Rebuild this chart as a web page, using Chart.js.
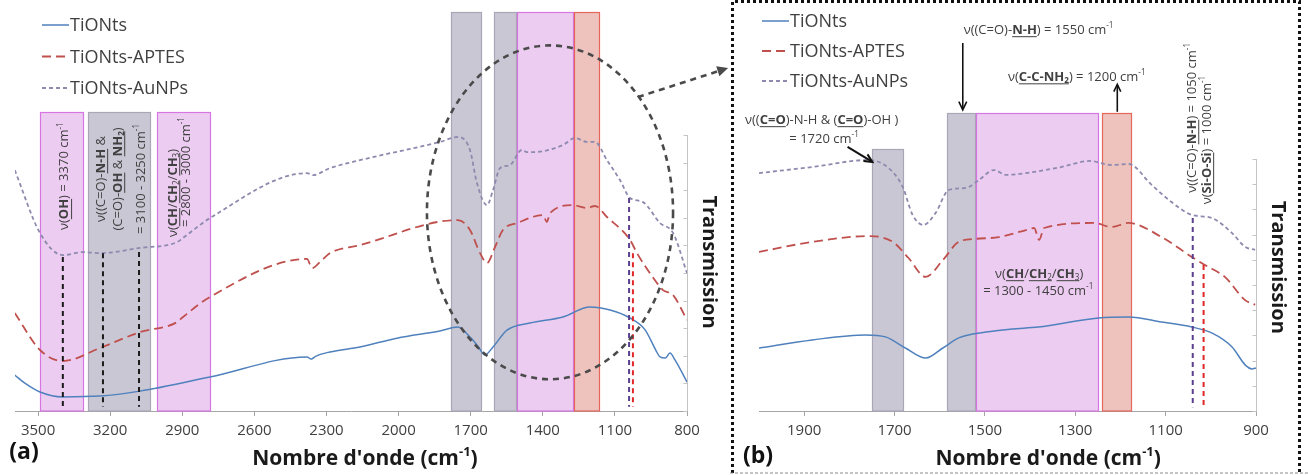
<!DOCTYPE html>
<html>
<head>
<meta charset="utf-8">
<script src="https://cdn.jsdelivr.net/npm/chart.js@4/dist/chart.umd.min.js"></script>
<style>
  html, body { margin: 0; padding: 0; background: #fff; }
  #wrap { position: relative; width: 1308px; height: 475px; overflow: hidden; }
  #cA { position: absolute; left: 0; top: 0; }
  #cB { position: absolute; left: 730px; top: 0; }
</style>
</head>
<body>
<div id="wrap">
  <canvas id="cA" width="730" height="475"></canvas>
  <canvas id="cB" width="578" height="475"></canvas>
</div>
<script>
// ---- panel (a): full range ----
const aTicks = [3500, 3200, 2900, 2600, 2300, 2000, 1700, 1400, 1100, 800];

const aTiONtsX = [3597, 3555, 3492, 3397, 3243, 3076, 2785, 2381, 2364, 2355, 2343, 2286, 2161, 2007, 1828, 1753, 1703, 1670, 1641, 1607, 1549, 1453, 1316, 1204, 1120, 1037, 975, 930, 912, 890, 871, 850, 800];
const aTiONtsY = [13.0, 10.1, 6.9, 5.1, 5.4, 7.2, 12.3, 19.6, 18.8, 19.2, 19.9, 21.4, 23.2, 26.4, 29.0, 30.4, 26.8, 23.5, 20.3, 23.2, 29.3, 31.9, 34.1, 37.7, 36.6, 33.7, 29.5, 22.1, 19.6, 19.2, 21.0, 18.5, 10.5];

const aAptesX = [3597, 3492, 3397, 3243, 3076, 2922, 2902, 2785, 2381, 2360, 2327, 2286, 2161, 1753, 1703, 1661, 1632, 1599, 1566, 1507, 1399, 1383, 1370, 1274, 1216, 1183, 1133, 1037, 1008, 925, 900, 858, 800];
const aAptesY = [35.5, 22.1, 18.1, 22.8, 28.6, 32.2, 33.7, 41.3, 55.1, 51.8, 54.0, 57.2, 60.1, 69.2, 65.6, 57.2, 53.6, 59.4, 65.6, 68.1, 71.0, 68.5, 71.7, 74.6, 73.6, 74.3, 70.3, 62.0, 57.2, 46.4, 43.8, 42.0, 33.0];

const aAunpsX = [3597, 3492, 3397, 3313, 3243, 3076, 2922, 2881, 2785, 2381, 2356, 2286, 2161, 1828, 1753, 1703, 1674, 1632, 1607, 1578, 1537, 1487, 1466, 1441, 1316, 1266, 1216, 1183, 1133, 1079, 1037, 983, 912, 858, 800];
const aAunpsY = [87.3, 64.5, 56.5, 57.6, 57.2, 59.1, 61.2, 63.8, 69.9, 86.2, 85.5, 88.0, 90.9, 97.5, 99.3, 94.6, 82.6, 74.6, 80.1, 88.0, 89.1, 94.6, 93.8, 93.8, 96.4, 98.9, 97.5, 97.5, 90.9, 83.7, 77.2, 75.7, 68.1, 64.5, 50.0];

// ---- panel (b): zoom 2000-900 ----
const bTicks = [1900, 1700, 1500, 1300, 1100, 900];

const bTiONtsX = [2000, 1882, 1764, 1720, 1676, 1631, 1593, 1558, 1498, 1442, 1382, 1249, 1182, 1109, 1042, 998, 953, 924, 909, 900];
const bTiONtsY = [25.0, 28.2, 30.2, 29.4, 25.0, 21.0, 25.0, 29.0, 31.3, 32.5, 33.3, 36.9, 37.3, 35.3, 33.3, 31.0, 25.4, 18.3, 16.7, 17.1];

const bAptesX = [2000, 1882, 1758, 1704, 1669, 1631, 1593, 1558, 1520, 1469, 1409, 1391, 1380, 1369, 1258, 1220, 1182, 1109, 1042, 1013, 969, 924, 902];
const bAptesY = [63.1, 67.1, 69.4, 67.1, 60.7, 53.2, 59.9, 67.1, 68.3, 69.0, 71.8, 72.6, 67.9, 72.6, 74.6, 73.0, 74.6, 69.0, 61.1, 57.9, 53.2, 44.0, 42.1];

const bAunpsX = [2000, 1882, 1758, 1713, 1682, 1660, 1636, 1609, 1580, 1542, 1513, 1480, 1453, 1409, 1331, 1269, 1220, 1182, 1131, 1087, 1042, 998, 953, 924, 902];
const bAunpsY = [94.4, 96.8, 99.6, 96.4, 88.9, 77.8, 73.8, 78.6, 87.7, 88.5, 91.7, 95.6, 93.7, 94.4, 96.8, 99.2, 97.6, 98.0, 89.7, 82.9, 77.8, 76.6, 70.6, 65.1, 63.9];

const seriesNames = ['TiONts', 'TiONts-APTES', 'TiONts-AuNPs'];
const yAxisTicks = [0, 10, 20, 30, 40, 50, 60, 70, 80, 90, 100];

const FONT = '"Open Sans", "DejaVu Sans", sans-serif';
const TXT = '#404040';
const PINK = { fill: '#EDCCF2', line: '#D676E3' };
const GRAY = { fill: '#CAC7D5', line: '#A9A6B6' };
const RED = { fill: '#EFC3BD', line: '#E5665A' };

function pts(xs, ys) {
  return xs.map((x, i) => ({ x, y: ys[i] }));
}

function datasets(t, a, n) {
  return [
    { label: seriesNames[0], data: t, borderColor: '#4F81BD', borderWidth: 1.5, borderDash: [] },
    { label: seriesNames[1], data: a, borderColor: '#C0504D', borderWidth: 1.8, borderDash: [9, 5] },
    { label: seriesNames[2], data: n, borderColor: '#8D8AAE', borderWidth: 1.8, borderDash: [4, 3] }
  ].map(d => Object.assign(d, { pointRadius: 0, cubicInterpolationMode: 'monotone', fill: false }));
}

// rich text: strings or {t, b, u, sub, sup}
function fontFor(s, size, bold) {
  const px = (s.sub || s.sup) ? size * 0.62 : size;
  return ((s.b || bold) ? 'bold ' : '') + px.toFixed(1) + 'px ' + FONT;
}

function drawRich(ctx, raw, x, y, o) {
  const segs = raw.map(s => typeof s === 'string' ? { t: s } : s);
  const size = o.size || 12.5;
  const bold = !!o.bold;
  ctx.save();
  ctx.translate(x, y);
  if (o.rot) ctx.rotate(o.rot);
  ctx.textBaseline = 'alphabetic';
  ctx.fillStyle = o.color || TXT;
  ctx.strokeStyle = o.color || TXT;
  let w = 0;
  segs.forEach(s => { ctx.font = fontFor(s, size, bold); w += ctx.measureText(s.t).width; });
  let cx = o.align === 'left' ? 0 : -w / 2;
  const base = size * 0.36;
  segs.forEach(s => {
    ctx.font = fontFor(s, size, bold);
    const sw = ctx.measureText(s.t).width;
    let dy = base;
    if (s.sup) dy = base - size * 0.42;
    if (s.sub) dy = base + size * 0.18;
    ctx.fillText(s.t, cx, dy);
    if (s.u) {
      ctx.lineWidth = 1;
      ctx.beginPath();
      ctx.moveTo(cx, base + size * 0.24);
      ctx.lineTo(cx + sw, base + size * 0.24);
      ctx.stroke();
    }
    cx += sw;
  });
  ctx.restore();
}

function drawArrow(ctx, x1, y1, x2, y2, o) {
  const a = Math.atan2(y2 - y1, x2 - x1);
  const h = o.head || 9;
  ctx.save();
  ctx.strokeStyle = o.color;
  ctx.fillStyle = o.color;
  ctx.lineWidth = o.width;
  ctx.setLineDash(o.dash || []);
  ctx.beginPath();
  ctx.moveTo(x1, y1);
  ctx.lineTo(x2 - Math.cos(a) * (o.filled ? h * 0.7 : 1), y2 - Math.sin(a) * (o.filled ? h * 0.7 : 1));
  ctx.stroke();
  ctx.setLineDash([]);
  ctx.beginPath();
  ctx.moveTo(x2 - h * Math.cos(a - 0.45), y2 - h * Math.sin(a - 0.45));
  ctx.lineTo(x2, y2);
  ctx.lineTo(x2 - h * Math.cos(a + 0.45), y2 - h * Math.sin(a + 0.45));
  if (o.filled) { ctx.closePath(); ctx.fill(); } else { ctx.stroke(); }
  ctx.restore();
}

const sup1 = { t: '-1', sup: 1 };

const annotPlugin = {
  id: 'annot',
  beforeDatasetsDraw(chart, args, o) {
    const { ctx, scales: { x, y } } = chart;
    ctx.save();
    o.bands.forEach(b => {
      const l = Math.round(x.getPixelForValue(b.from)) + 0.5;
      const r = Math.round(x.getPixelForValue(b.to)) + 0.5;
      const t = Math.round(y.getPixelForValue(b.top)) + 0.5;
      const btm = y.getPixelForValue(0);
      ctx.fillStyle = b.c.fill;
      ctx.fillRect(l, t, r - l, btm - t);
      ctx.strokeStyle = b.c.line;
      ctx.lineWidth = 1.2;
      ctx.strokeRect(l, t, r - l, btm - t);
    });
    ctx.restore();
  },
  afterDatasetsDraw(chart, args, o) {
    const { ctx, chartArea, scales: { x, y } } = chart;
    ctx.save();

    // marker lines
    o.vlines.forEach(v => {
      const px = x.getPixelForValue(v.x);
      ctx.strokeStyle = v.color;
      ctx.lineWidth = 2;
      ctx.setLineDash([5, 4]);
      ctx.beginPath();
      ctx.moveTo(px, y.getPixelForValue(v.top));
      ctx.lineTo(px, y.getPixelForValue(1.5));
      ctx.stroke();
    });
    ctx.setLineDash([]);

    // right axis, drawn only over 0..100
    const ax = chartArea.right + 0.5;
    ctx.strokeStyle = '#c4c4c4';
    ctx.lineWidth = 1;
    ctx.beginPath();
    ctx.moveTo(ax, y.getPixelForValue(0));
    ctx.lineTo(ax, y.getPixelForValue(100));
    yAxisTicks.forEach(v => {
      const py = Math.round(y.getPixelForValue(v)) + 0.5;
      ctx.moveTo(ax - 4, py);
      ctx.lineTo(ax, py);
    });
    ctx.stroke();

    if (o.ellipse) {
      const e = o.ellipse;
      const cx = x.getPixelForValue(e.x), cy = y.getPixelForValue(e.y);
      const rx = Math.abs(x.getPixelForValue(e.x - e.rx) - cx);
      const ry = Math.abs(y.getPixelForValue(e.y + e.ry) - cy);
      ctx.strokeStyle = '#4a4a4a';
      ctx.lineWidth = 2.6;
      ctx.setLineDash([6, 5]);
      ctx.beginPath();
      ctx.ellipse(cx, cy, rx, ry, 0, 0, Math.PI * 2);
      ctx.stroke();
      ctx.setLineDash([]);
    }

    o.arrows.forEach(a => {
      drawArrow(ctx, x.getPixelForValue(a.from[0]), y.getPixelForValue(a.from[1]),
        x.getPixelForValue(a.to[0]), y.getPixelForValue(a.to[1]), a.style);
    });

    o.texts.forEach(t => {
      drawRich(ctx, t.segs, x.getPixelForValue(t.at[0]), y.getPixelForValue(t.at[1]),
        { rot: t.rot ? t.rot * Math.PI / 180 : 0, align: t.align, size: t.size || o.textSize });
    });

    // legend
    const lg = o.legend;
    chart.data.datasets.forEach((ds, i) => {
      const ly = lg.y0 + i * lg.dy;
      ctx.strokeStyle = ds.borderColor;
      ctx.lineWidth = ds.borderWidth;
      ctx.setLineDash(ds.borderDash);
      ctx.beginPath();
      ctx.moveTo(lg.x, ly);
      ctx.lineTo(lg.x + 27, ly);
      ctx.stroke();
      ctx.setLineDash([]);
      drawRich(ctx, [ds.label], lg.x + 28, ly, { size: 18, align: 'left' });
    });

    // axis titles and panel tag
    drawRich(ctx, ['Transmission'], ax + 23, y.getPixelForValue(o.yTitleAt),
      { size: 20, bold: true, rot: Math.PI / 2, color: '#1a1a1a' });
    drawRich(ctx, ['Nombre d\'onde (cm', { t: '-1', sup: 1 }, ')'], x.getPixelForValue(o.xTitleAt), chart.height - 18,
      { size: 21, bold: true, color: '#1a1a1a' });
    drawRich(ctx, [o.tag.text], o.tag.x, o.tag.y, { size: 23, bold: true, color: '#111' });

    if (o.frame) {
      const f = o.frame;
      ctx.strokeStyle = '#111';
      ctx.lineWidth = 3;
      ctx.setLineDash([3, 3]);
      ctx.beginPath();
      ctx.moveTo(f.l, f.b);
      ctx.lineTo(f.l, f.t);
      ctx.lineTo(f.r, f.t);
      ctx.lineTo(f.r, f.b);
      ctx.stroke();
      ctx.strokeStyle = '#8a8a8a';
      ctx.lineWidth = 1;
      ctx.setLineDash([3, 2]);
      ctx.beginPath();
      ctx.moveTo(0, f.b);
      ctx.lineTo(chart.width, f.b);
      ctx.stroke();
    }
    ctx.restore();
  }
};

function xScale(min, max, ticks) {
  return {
    type: 'linear', reverse: true, min, max,
    afterBuildTicks: s => { s.ticks = ticks.map(v => ({ value: v })); },
    afterFit: s => { s.height = 64; },
    border: { color: '#a6a6a6', width: 1 },
    grid: { drawOnChartArea: false, drawTicks: true, tickLength: 5, color: '#a6a6a6' },
    ticks: {
      autoSkip: false, maxRotation: 0, padding: 6, color: '#404040',
      font: { family: 'Open Sans', size: 15 },
      callback: v => String(v)
    }
  };
}

function makeChart(id, cfg) {
  return new Chart(document.getElementById(id), {
    type: 'line',
    data: { datasets: cfg.datasets },
    options: {
      responsive: false,
      animation: false,
      devicePixelRatio: 1,
      layout: { padding: cfg.padding },
      scales: {
        x: xScale(cfg.xmin, cfg.xmax, cfg.ticks),
        y: { display: false, min: 0, max: cfg.ymax }
      },
      plugins: { legend: { display: false }, tooltip: { enabled: false }, annot: cfg.annot }
    },
    plugins: [annotPlugin]
  });
}

makeChart('cA', {
  datasets: datasets(pts(aTiONtsX, aTiONtsY), pts(aAptesX, aAptesY), pts(aAunpsX, aAunpsY)),
  padding: { left: 15, right: 43, top: 12, bottom: 0 },
  xmin: 800, xmax: 3596, ymax: 144.6, ticks: aTicks,
  annot: {
    textSize: 13,
    bands: [
      { from: 3492, to: 3314, top: 108.3, c: PINK },
      { from: 3293, to: 3035, top: 108.3, c: GRAY },
      { from: 3006, to: 2785, top: 108.3, c: PINK },
      { from: 1782, to: 1657, top: 144.6, c: GRAY },
      { from: 1603, to: 1510, top: 144.6, c: GRAY },
      { from: 1507, to: 1274, top: 144.6, c: PINK },
      { from: 1270, to: 1166, top: 144.6, c: RED }
    ],
    vlines: [
      { x: 3397, top: 55.8, color: '#1a1a1a' },
      { x: 3230, top: 57.2, color: '#1a1a1a' },
      { x: 3080, top: 57.6, color: '#1a1a1a' },
      { x: 1041, top: 77.2, color: '#5B3F8F' },
      { x: 1025, top: 57.2, color: '#E02828' }
    ],
    ellipse: { x: 1370, y: 72, rx: 512, ry: 60.5 },
    arrows: [
      { from: [1004, 113.8], to: [629, 124.3], style: { color: '#4a4a4a', width: 2.6, dash: [6, 5], head: 12, filled: true } }
    ],
    texts: [
      { at: [3393, 85.1], rot: -90, segs: ['ν(', { t: 'OH', b: 1, u: 1 }, ') = 3370 cm', sup1] },
      { at: [3243, 84.1], rot: -90, segs: ['ν((C=O)-', { t: 'N-H', b: 1, u: 1 }, ' &'] },
      { at: [3172, 84.1], rot: -90, segs: ['(C=O)-', { t: 'OH', b: 1, u: 1 }, ' & ', { t: 'NH', b: 1, u: 1 }, { t: '2', sub: 1, b: 1, u: 1 }, ')'] },
      { at: [3076, 84.1], rot: -90, segs: ['= 3100 - 3250 cm', sup1] },
      { at: [2943, 79.0], rot: -90, segs: ['ν(', { t: 'CH', b: 1, u: 1 }, '/', { t: 'CH', b: 1, u: 1 }, { t: '2', sub: 1, u: 1 }, '/', { t: 'CH', b: 1, u: 1 }, { t: '3', sub: 1, u: 1 }, ')'] },
      { at: [2889, 86.6], rot: -90, segs: ['= 2800 - 3000 cm', sup1] }
    ],
    legend: { x: 42, y0: 25, dy: 31.5 },
    yTitleAt: 54,
    xTitleAt: 2140,
    tag: { text: '(a)', x: 24, y: 451 }
  }
});

makeChart('cB', {
  datasets: datasets(pts(bTiONtsX, bTiONtsY), pts(bAptesX, bAptesY), pts(bAunpsX, bAunpsY)),
  padding: { left: 29, right: 52, top: 12, bottom: 0 },
  xmin: 900, xmax: 2000, ymax: 158.3, ticks: bTicks,
  annot: {
    textSize: 13,
    bands: [
      { from: 1751, to: 1682, top: 104, c: GRAY },
      { from: 1584, to: 1522, top: 118.3, c: GRAY },
      { from: 1520, to: 1250, top: 118.3, c: PINK },
      { from: 1240, to: 1176, top: 118.3, c: RED }
    ],
    vlines: [
      { x: 1040, top: 76.6, color: '#5B3F8F' },
      { x: 1016, top: 57.9, color: '#E02828' }
    ],
    arrows: [
      { from: [1804, 104.8], to: [1749, 98.8], style: { color: '#111', width: 2, head: 9 } },
      { from: [1549, 146], to: [1549, 119.5], style: { color: '#111', width: 1.6, head: 9 } },
      { from: [1207, 118.7], to: [1207, 129.6], style: { color: '#111', width: 1.6, head: 8 } }
    ],
    texts: [
      { at: [1547, 151.6], align: 'left', segs: ['ν((C=O)-', { t: 'N-H', b: 1, u: 1 }, ') = 1550 cm', sup1] },
      { at: [1449, 132.9], align: 'left', segs: ['ν(', { t: 'C-C-NH', b: 1, u: 1 }, { t: '2', sub: 1, b: 1, u: 1 }, ') = 1200 cm', sup1] },
      { at: [2031, 115.9], align: 'left', segs: ['ν((', { t: 'C=O', b: 1, u: 1 }, ')-N-H & (', { t: 'C=O', b: 1, u: 1 }, ')-OH )'] },
      { at: [1856, 108.3], segs: ['= 1720 cm', sup1] },
      { at: [1044, 116.3], rot: -90, segs: ['ν((C=O)-', { t: 'N-H', b: 1, u: 1 }, ') = 1050 cm', sup1] },
      { at: [1011, 107.5], rot: -90, segs: ['ν(', { t: 'Si-O-Si', b: 1, u: 1 }, ') = 1000 cm', sup1] },
      { at: [1380, 54.8], segs: ['ν(', { t: 'CH', b: 1, u: 1 }, '/', { t: 'CH', b: 1, u: 1 }, { t: '2', sub: 1, u: 1 }, '/', { t: 'CH', b: 1, u: 1 }, { t: '3', sub: 1, u: 1 }, ')'] },
      { at: [1382, 48.0], segs: ['= 1300 - 1450 cm', sup1] }
    ],
    legend: { x: 32, y0: 21, dy: 30 },
    yTitleAt: 57,
    xTitleAt: 1360,
    tag: { text: '(b)', x: 28, y: 455 },
    frame: { l: 2.5, t: 1.5, r: 569.5, b: 473 }
  }
});
</script>
</body>
</html>
